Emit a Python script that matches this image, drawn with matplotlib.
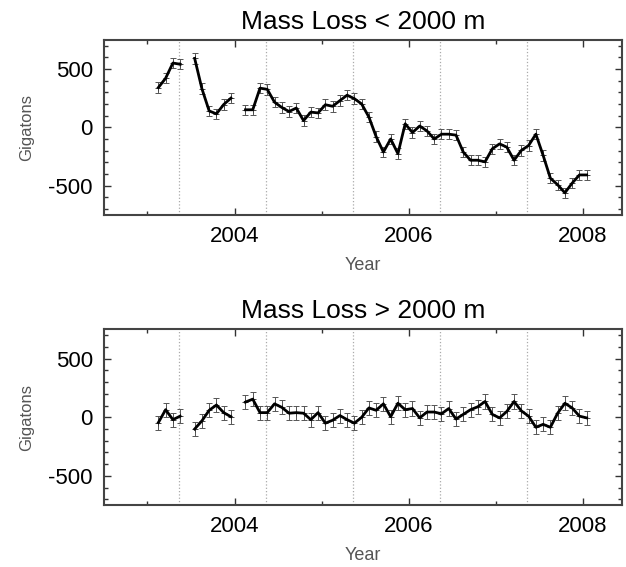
import numpy as np
import matplotlib
matplotlib.use("Agg")
import matplotlib.pyplot as plt
from matplotlib.ticker import MultipleLocator

plt.rcParams['font.family'] = ['Liberation Sans', 'DejaVu Sans']
plt.rcParams['axes.unicode_minus'] = False

# meses Feb/2003 .. Jan/2008 (ano, mes); None = mes sem dado
anos_meses = [(2003, m) for m in range(2, 13)] + \
             [(a, m) for a in (2004, 2005, 2006, 2007) for m in range(1, 13)] + [(2008, 1)]

# perda de massa abaixo de 2000 m (Gigatons)
raso = [340, 420, 550, 540, None, 590, 330, 140, 115, 195, 250,
        None, 150, 150, 335, 325, 215, 170, 135, 165, 57, 130, 123,
        193, 180, 228, 275, 245, 200, 88, -80, -212, -100, -226, 30,
        -45, 11, -31, -100, -59, -59, -67, -212, -282, -282, -296, -184,
        -142, -170, -282, -198, -156, -59, -240, -436, -492, -561, -478, -408,
        -408]

# perda de massa acima de 2000 m (Gigatons)
fundo = [-45, 65, -20, 10, None, -100, -30, 60, 105, 40, 5,
         None, 130, 155, 40, 40, 115, 85, 35, 40, 35, -20, 40,
         -50, -25, 15, -20, -50, 0, 80, 60, 115, 5, 120, 65,
         75, -5, 45, 45, 30, 75, -15, 25, 65, 90, 135, 25,
         -5, 50, 135, 55, 10, -85, -60, -85, 35, 120, 80, 10,
         -5]

erro_raso = 45
erro_fundo = 60

# linhas pontilhadas verticais
marcas = [2003.36, 2004.36, 2005.36, 2006.36, 2007.36]

titulos = ["Mass Loss < 2000 m", "Mass Loss > 2000 m"]

t = np.array([a + (m - 0.5) / 12 for a, m in anos_meses])

fig = plt.figure(figsize=(6.26, 5.67), dpi=100)
ax1 = fig.add_axes([0.166, 0.621, 0.828, 0.309])
ax2 = fig.add_axes([0.166, 0.109, 0.828, 0.310])

for ax, serie, erro, titulo in [(ax1, raso, erro_raso, titulos[0]),
                                (ax2, fundo, erro_fundo, titulos[1])]:
    y = np.array([np.nan if v is None else v for v in serie], dtype=float)
    for x in marcas:
        ax.axvline(x, color="#aaaaaa", linestyle=":", linewidth=0.9, zorder=0)
    ax.errorbar(t, y, yerr=erro, fmt="+", color="#444444", ecolor="#555555",
                elinewidth=0.7, capsize=2, capthick=0.7, markersize=5,
                markeredgewidth=0.7, zorder=2)
    ax.plot(t, y, color="black", linewidth=2.0, zorder=3)

    ax.set_xlim(2002.5, 2008.45)
    ax.set_ylim(-750, 750)
    ax.set_xticks([2004, 2006, 2008])
    ax.xaxis.set_minor_locator(MultipleLocator(1))
    ax.set_yticks([-500, 0, 500])
    ax.yaxis.set_minor_locator(MultipleLocator(100))
    ax.tick_params(which="both", direction="in", top=True, right=True,
                   color="#333333", width=1.0)
    ax.tick_params(which="major", length=5, labelsize=16, pad=8)
    ax.tick_params(which="minor", length=3)
    ax.xaxis.set_minor_formatter(plt.NullFormatter())
    for s in ax.spines.values():
        s.set_linewidth(1.5)
        s.set_color("#444444")

    ax.set_title(titulo, fontsize=19, pad=8)
    ax.set_xlabel("Year", fontsize=13, color="#555555", labelpad=7)
    ax.set_ylabel("Gigatons", fontsize=12, color="#555555", labelpad=10)

fig.savefig("out.png", dpi=100)
